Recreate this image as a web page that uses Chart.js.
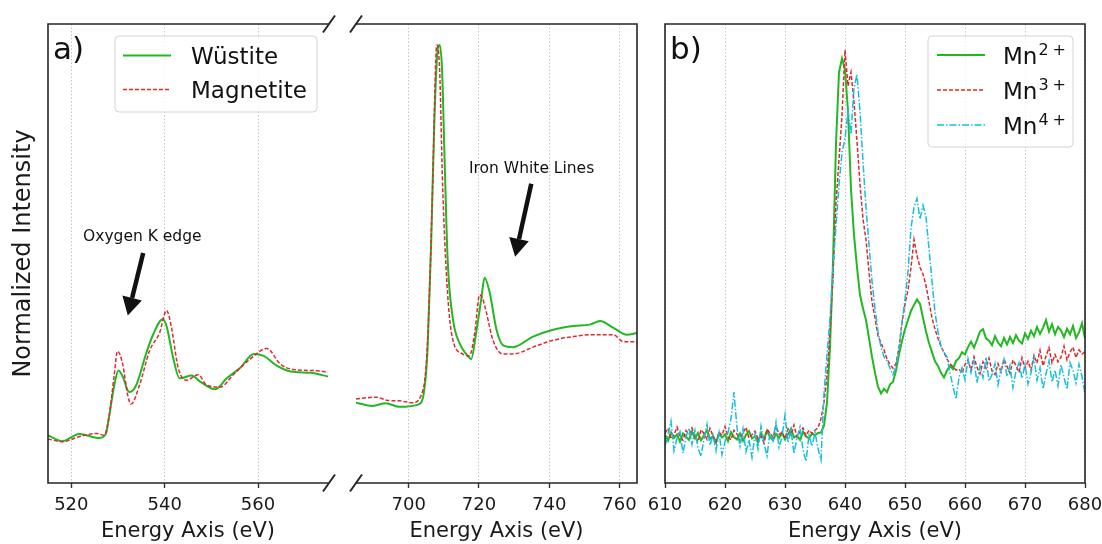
<!DOCTYPE html>
<html>
<head>
<meta charset="utf-8">
<title>O K, Fe L and Mn L edges</title>
<script src="https://cdn.jsdelivr.net/npm/chart.js@4.4.1/dist/chart.umd.min.js"></script>
<style>
  body { margin: 0; background: #fff; }
  #figure { position: relative; width: 1102px; height: 544px; }
  #figure canvas { position: absolute; left: 0; top: 0; }
</style>
</head>
<body>
<div id="figure">
  <canvas id="oxygen-chart" width="1102" height="544"></canvas>
  <canvas id="iron-chart" width="1102" height="544"></canvas>
  <canvas id="manganese-chart" width="1102" height="544"></canvas>
</div>
<script>
// values; intensity is in % of the plot height
const oxygenTicks = [520, 540, 560];
const ironTicks = [700, 720, 740, 760];
const manganeseTicks = [610, 620, 630, 640, 650, 660, 670, 680];

const ionLabels = ['Mn2+', 'Mn3+', 'Mn4+'];

// a) oxygen K edge
const wustiteOxygenEnergy = [515, 518, 521.7, 526, 527.4, 528.1, 529.2, 530.1, 531, 532.4, 533.9, 536, 537.5, 539.6, 540.4, 541.8, 543.2, 545.8, 547.6, 550.8, 553.3, 556.2, 559.1, 561.2, 564.1, 567, 571.3, 575];
const wustiteOxygen = [10.4, 9.1, 10.7, 9.8, 10.7, 14.5, 21.3, 24.5, 23.2, 19.8, 21.3, 28.1, 32.3, 35.7, 34.2, 27.4, 22.8, 23.4, 22.1, 20.4, 22.8, 25.1, 28.1, 27.7, 25.5, 24.3, 24.0, 23.2];
const magnetiteOxygenEnergy = [515, 518, 522, 525.5, 527, 528.1, 529.2, 529.9, 531, 532.1, 532.8, 534.6, 536.8, 538.9, 540.4, 541.4, 542.9, 544.7, 547.2, 549, 551.9, 554.7, 558.3, 561.9, 564.8, 567.7, 572, 575];
const magnetiteOxygen = [9.6, 9.0, 10.2, 10.8, 10.4, 14.5, 23.6, 28.7, 25.9, 19.0, 17.2, 21.3, 28.9, 32.7, 37.6, 34.2, 25.1, 22.4, 23.6, 21.3, 20.9, 23.6, 27.0, 29.3, 25.9, 24.7, 24.5, 24.2];

// a) iron L2,3 white lines
const wustiteIronEnergy = [685, 689.7, 693.5, 697.3, 703, 704.5, 705.4, 706.4, 707.3, 708.3, 708.8, 709.5, 710.2, 711.1, 712.6, 714.5, 716.4, 717.8, 719.2, 720.7, 721.6, 723, 725, 726.9, 729.7, 735.4, 741.1, 746.9, 751.6, 754.5, 758.3, 762.1, 765];
const wustiteIron = [17.5, 16.8, 17.4, 16.6, 17.2, 20.6, 29.6, 52.3, 78.8, 94.7, 95.4, 90.1, 71.2, 48.5, 35.7, 30.4, 28.1, 27.0, 32.7, 40.3, 44.7, 41.7, 33.4, 30.0, 29.6, 31.9, 33.4, 34.2, 34.5, 35.3, 33.8, 32.3, 32.7];
const magnetiteIronEnergy = [685, 690.7, 694, 697.3, 701.1, 703.5, 705, 705.9, 706.9, 707.8, 708.1, 708.8, 709.7, 711.1, 712.6, 715.4, 717.3, 718.8, 720.2, 721, 722.1, 724, 726.9, 729.7, 735.4, 741.1, 746.9, 751.6, 758.3, 761.1, 765];
const magnetiteIron = [18.3, 18.7, 18.0, 17.9, 17.5, 19.0, 25.9, 41.0, 67.4, 93.9, 95.4, 90.1, 63.9, 41.0, 31.1, 28.1, 27.7, 32.7, 41.0, 40.3, 37.2, 31.1, 28.1, 28.1, 29.6, 31.1, 31.9, 32.3, 32.3, 30.8, 30.8];

// b) manganese L2,3, sampled every 0.5 eV from 610 to 680 eV
const mn2 = [
  10.5, 9.2, 11.0, 9.8, 10.6, 9.0, 10.8, 10.1, 9.4, 11.2,
  9.7, 10.9, 9.3, 10.4, 11.5, 9.6, 10.2, 8.9, 10.7, 9.9,
  10.6, 9.1, 11.1, 10.0, 9.5, 10.8, 9.2, 10.5, 11.3, 9.7,
  10.2, 8.8, 10.9, 9.6, 11.4, 10.0, 9.3, 10.7, 9.8, 11.0,
  9.5, 10.6, 11.8, 9.9, 10.3, 9.4, 11.2, 10.1, 9.7, 10.8,
  10.4, 10.9, 11.0, 12.5, 17.5, 29.6, 48.0, 74.0, 89.5, 92.5,
  90.1, 81.0, 64.0, 54.0, 47.0, 41.0, 38.0, 35.5, 31.5, 27.5,
  24.0, 21.0, 19.5, 20.5, 19.8, 21.5, 22.0, 24.5, 28.0, 31.0,
  33.5, 35.5, 37.5, 38.8, 40.0, 39.0, 36.0, 33.0, 30.5, 28.5,
  26.5, 25.5, 24.0, 23.0, 24.5, 25.5, 24.8, 26.6, 27.2, 28.5,
  28.0, 29.6, 30.8, 29.5, 31.2, 33.0, 33.5, 31.5, 31.0, 30.0,
  32.0, 30.6, 29.8, 31.6, 30.2, 31.8, 30.5, 32.2, 31.0, 30.4,
  32.6, 31.4, 33.2, 32.0, 34.0, 32.5, 33.8, 35.5, 33.0, 34.6,
  32.4, 34.0, 33.2, 31.8, 33.6, 32.4, 34.2, 31.6, 32.8, 34.8,
  31.5
];
const mn3 = [
  10.8, 11.9, 9.6, 10.5, 12.2, 10.1, 9.3, 11.4, 10.6, 12.0,
  10.2, 9.0, 11.6, 10.8, 9.5, 11.9, 10.3, 8.8, 11.1, 10.4,
  12.3, 10.0, 9.4, 11.5, 10.7, 9.2, 11.0, 12.1, 9.8, 10.5,
  11.3, 9.6, 10.2, 8.7, 11.7, 10.9, 9.9, 12.4, 10.6, 11.0,
  9.7, 11.8, 10.4, 12.6, 10.0, 11.2, 12.0, 10.3, 11.5, 10.8,
  11.5, 12.0, 14.0, 17.5, 23.5, 33.0, 45.0, 61.0, 70.5, 80.0,
  94.3, 86.5, 89.5, 83.0, 74.5, 65.0, 57.5, 53.0, 46.0, 39.5,
  36.0, 32.0, 30.5, 29.0, 27.0, 25.8, 25.0, 26.0, 29.5, 35.0,
  39.0, 42.0, 47.0, 53.0, 49.5, 47.0, 45.5, 43.0, 39.5, 36.0,
  33.5, 31.5, 29.8, 28.4, 27.0, 26.0, 25.3, 24.6, 24.8, 23.9,
  25.8, 26.8, 24.6, 27.5, 25.2, 23.8, 26.4, 25.0, 27.2, 24.4,
  23.6, 26.0, 24.2, 27.0, 25.4, 23.9, 26.8, 25.6, 24.1, 27.3,
  25.0, 26.5, 24.6, 27.8, 26.1, 28.9, 25.5, 27.6, 29.5, 26.2,
  28.0, 26.4, 27.4, 29.8, 26.8, 28.5, 29.6, 27.3, 29.0, 28.1,
  28.6
];
const mn4 = [
  8.0, 10.5, 13.5, 7.0, 9.8, 11.2, 6.5, 10.0, 12.0, 8.4,
  11.5, 7.6, 5.8, 9.6, 12.8, 8.2, 10.4, 7.0, 11.0, 6.2,
  9.0, 11.0, 14.0, 19.8, 12.0, 8.0, 11.8, 6.8, 9.4, 5.6,
  10.6, 7.4, 12.4, 8.6, 5.9, 11.0, 9.2, 13.2, 7.8, 10.0,
  14.8, 8.8, 11.6, 6.4, 9.8, 12.2, 7.2, 4.7, 10.4, 8.0,
  11.0, 7.5, 5.0, 19.5, 28.0, 36.0, 47.0, 56.0, 65.0, 72.0,
  75.0, 81.0, 76.0, 86.0, 89.0, 81.0, 70.0, 60.0, 52.0, 44.0,
  38.0, 33.0, 29.6, 27.5, 26.6, 25.0, 23.6, 25.5, 29.0, 35.0,
  40.0, 46.0, 55.5, 60.0, 62.0, 57.5, 60.5, 58.0, 51.0, 44.0,
  37.2, 33.0, 29.6, 28.5, 27.4, 24.0, 21.0, 18.3, 23.0, 25.1,
  22.5, 27.0, 24.0, 26.6, 21.8, 25.5, 23.0, 27.4, 22.2, 23.6,
  26.0, 21.4, 24.8, 27.0, 23.2, 25.6, 20.8, 24.4, 26.2, 22.8,
  25.8, 21.6, 24.0, 27.2, 22.4, 25.1, 20.5, 23.8, 26.6, 22.0,
  24.6, 21.2, 25.8, 23.0, 20.4, 26.2, 24.5, 21.8, 25.9, 23.2,
  19.5
];
const manganeseEnergy = mn2.map((v, i) => 610 + i * 0.5);

const FONT = 'DejaVu Sans';
const INK = '#1a1a1a';
const GREEN = '#22b822';
const RED = '#e0282e';
const CYAN = '#14bfe0';

const pts = (xs, ys) => ys.map((y, i) => ({ x: xs[i], y: y }));

function trace(label, xs, ys, color, style, order, smooth) {
    return {
        label: label,
        data: pts(xs, ys),
        borderColor: color,
        backgroundColor: color,
        borderWidth: style === 'solid' ? 2 : 1.5,
        borderDash: style === 'dashed' ? [4, 2] : style === 'dashdot' ? [7, 2, 1.5, 2] : [],
        pointRadius: 0,
        cubicInterpolationMode: smooth ? 'monotone' : 'default',
        tension: 0,
        fill: false,
        order: order
    };
}

function energyAxis(min, max, ticks) {
    return {
        type: 'linear',
        min: min,
        max: max,
        afterBuildTicks: axis => { axis.ticks = ticks.map(v => ({ value: v })); },
        afterFit: axis => { axis.height = 61; axis.paddingLeft = 0; axis.paddingRight = 0; },
        grid: { color: '#c4c4c4', lineWidth: 1, tickLength: 5, tickColor: '#333', tickWidth: 1.4, tickBorderDash: [] },
        border: { display: false, dash: [1.5, 2] },
        ticks: { color: INK, padding: 7, maxRotation: 0, autoSkip: false, font: { family: FONT, size: 18 } },
        title: { display: true, text: 'Energy Axis (eV)', color: INK, padding: 0, font: { family: FONT, size: 21 } }
    };
}

const hiddenIntensity = { display: false, min: 0, max: 100 };

function roundedBox(ctx, x, y, w, h, r) {
    ctx.beginPath();
    ctx.moveTo(x + r, y);
    ctx.lineTo(x + w - r, y);
    ctx.arcTo(x + w, y, x + w, y + r, r);
    ctx.lineTo(x + w, y + h - r);
    ctx.arcTo(x + w, y + h, x + w - r, y + h, r);
    ctx.lineTo(x + r, y + h);
    ctx.arcTo(x, y + h, x, y + h - r, r);
    ctx.lineTo(x, y + r);
    ctx.arcTo(x, y, x + r, y, r);
    ctx.closePath();
}

// frame, broken-axis marks and the panel tag
const framePlugin = {
    id: 'frame',
    afterDraw(chart, args, opts) {
        const { ctx, chartArea: { left, right, top, bottom } } = chart;
        ctx.save();
        ctx.strokeStyle = '#262626';
        ctx.lineWidth = 1.6;
        ctx.lineCap = 'square';
        ctx.beginPath();
        ctx.moveTo(left, top); ctx.lineTo(right, top);
        ctx.moveTo(left, bottom); ctx.lineTo(right, bottom);
        if (!opts.openLeft) { ctx.moveTo(left, top); ctx.lineTo(left, bottom); }
        if (!opts.openRight) { ctx.moveTo(right, top); ctx.lineTo(right, bottom); }
        ctx.stroke();

        const edges = [];
        if (opts.openRight) edges.push(right + 1);
        if (opts.openLeft) edges.push(left);
        ctx.lineWidth = 2;
        ctx.lineCap = 'butt';
        edges.forEach(x => [top, bottom].forEach(y => {
            ctx.beginPath();
            ctx.moveTo(x - 6, y + 8.5);
            ctx.lineTo(x + 6, y - 8.5);
            ctx.stroke();
        }));

        if (opts.tag) {
            ctx.fillStyle = '#111';
            ctx.font = '31px ' + FONT;
            ctx.textAlign = 'left';
            ctx.textBaseline = 'alphabetic';
            ctx.fillText(opts.tag, left + 5, top + 35);
        }
        ctx.restore();
    }
};

// matplotlib-like framed legend, labels like "Mn2+" get a superscript charge
const boxLegendPlugin = {
    id: 'boxLegend',
    afterDraw(chart, args, opts) {
        if (!opts.box) return;
        const ctx = chart.ctx;
        const b = opts.box;
        ctx.save();
        roundedBox(ctx, b.x, b.y, b.w, b.h, 4);
        ctx.fillStyle = 'rgba(255,255,255,0.8)';
        ctx.fill();
        ctx.strokeStyle = '#d4d4d4';
        ctx.lineWidth = 1;
        ctx.stroke();

        chart.data.datasets.forEach((ds, i) => {
            const y = opts.firstRow + i * opts.rowGap;
            ctx.beginPath();
            ctx.setLineDash(ds.borderDash);
            ctx.strokeStyle = ds.borderColor;
            ctx.lineWidth = ds.borderWidth;
            ctx.moveTo(opts.lineX, y);
            ctx.lineTo(opts.lineX + 48, y);
            ctx.stroke();
            ctx.setLineDash([]);

            ctx.fillStyle = '#111';
            ctx.textAlign = 'left';
            ctx.textBaseline = 'alphabetic';
            const base = y + 8.5;
            const m = ds.label.match(/^(.*?)(\d)(\+)$/);
            ctx.font = '23px ' + FONT;
            if (!m) {
                ctx.fillText(ds.label, opts.textX, base);
                return;
            }
            ctx.fillText(m[1], opts.textX, base);
            let x = opts.textX + ctx.measureText(m[1]).width + 1;
            ctx.font = '16px ' + FONT;
            ctx.fillText(m[2], x, base - 9);
            x += ctx.measureText(m[2]).width + 4;
            ctx.fillText(m[3], x, base - 9);
        });
        ctx.restore();
    }
};

// text labels with thick arrows, placed in data coordinates
const notesPlugin = {
    id: 'notes',
    afterDatasetsDraw(chart, args, opts) {
        if (!opts.items) return;
        const { ctx, scales: { x, y } } = chart;
        ctx.save();
        ctx.fillStyle = '#111';
        ctx.strokeStyle = '#111';
        opts.items.forEach(n => {
            ctx.font = '15.5px ' + FONT;
            ctx.textAlign = 'center';
            ctx.textBaseline = 'middle';
            ctx.fillText(n.text, x.getPixelForValue(n.at[0]), y.getPixelForValue(n.at[1]));

            const x1 = x.getPixelForValue(n.from[0]), y1 = y.getPixelForValue(n.from[1]);
            const x2 = x.getPixelForValue(n.to[0]), y2 = y.getPixelForValue(n.to[1]);
            const ang = Math.atan2(y2 - y1, x2 - x1);
            const headLen = 18, half = 10;
            const bx = x2 - headLen * Math.cos(ang), by = y2 - headLen * Math.sin(ang);
            ctx.lineWidth = 4.5;
            ctx.beginPath();
            ctx.moveTo(x1, y1);
            ctx.lineTo(bx, by);
            ctx.stroke();
            ctx.beginPath();
            ctx.moveTo(x2, y2);
            ctx.lineTo(bx + half * Math.sin(ang), by - half * Math.cos(ang));
            ctx.lineTo(bx - half * Math.sin(ang), by + half * Math.cos(ang));
            ctx.closePath();
            ctx.fill();
        });
        ctx.restore();
    }
};

function spectrumChart(id, datasets, xAxis, yAxis, padding, extra) {
    return new Chart(document.getElementById(id).getContext('2d'), {
        type: 'line',
        data: { datasets: datasets },
        options: {
            responsive: false,
            animation: false,
            events: [],
            layout: { padding: padding },
            scales: { x: xAxis, y: yAxis },
            plugins: {
                legend: { display: false },
                tooltip: { enabled: false },
                frame: extra.frame,
                boxLegend: extra.legend || {},
                notes: extra.notes || {}
            }
        },
        plugins: [framePlugin, boxLegendPlugin, notesPlugin]
    });
}

document.addEventListener('DOMContentLoaded', () => {
    // a) left half: O K edge
    spectrumChart('oxygen-chart', [
        trace('Wüstite', wustiteOxygenEnergy, wustiteOxygen, GREEN, 'solid', 2, true),
        trace('Magnetite', magnetiteOxygenEnergy, magnetiteOxygen, RED, 'dashed', 1, true)
    ], energyAxis(515, 575, oxygenTicks), {
        min: 0,
        max: 100,
        afterFit: axis => { axis.width = 48; },
        grid: { display: false },
        border: { display: false },
        ticks: { display: false },
        title: { display: true, text: 'Normalized Intensity', color: INK, padding: { top: 9, bottom: 0 }, font: { family: FONT, size: 24 } }
    }, { left: 0, right: 774, top: 24, bottom: 0 }, {
        frame: { openRight: true, tag: 'a)' },
        legend: { box: { x: 115, y: 36, w: 202, h: 76 }, firstRow: 55.5, rowGap: 34, lineX: 123, textX: 191 },
        notes: { items: [{ text: 'Oxygen K edge', at: [535.2, 53.5], from: [535.4, 50.1], to: [532.1, 36.5] }] }
    });

    // a) right half: Fe L2,3 white lines
    spectrumChart('iron-chart', [
        trace('Wüstite', wustiteIronEnergy, wustiteIron, GREEN, 'solid', 2, true),
        trace('Magnetite', magnetiteIronEnergy, magnetiteIron, RED, 'dashed', 1, true)
    ], energyAxis(685, 765, ironTicks), hiddenIntensity,
    { left: 356, right: 465, top: 24, bottom: 0 }, {
        frame: { openLeft: true },
        notes: { items: [{ text: 'Iron White Lines', at: [735, 68.4], from: [734.9, 65.2], to: [730.3, 49.3] }] }
    });

    // b) Mn L2,3 for three oxidation states
    spectrumChart('manganese-chart', [
        trace(ionLabels[0], manganeseEnergy, mn2, GREEN, 'solid', 3, false),
        trace(ionLabels[1], manganeseEnergy, mn3, RED, 'dashed', 2, false),
        trace(ionLabels[2], manganeseEnergy, mn4, CYAN, 'dashdot', 1, false)
    ], energyAxis(610, 680, manganeseTicks), hiddenIntensity,
    { left: 665, right: 17, top: 24, bottom: 0 }, {
        frame: { tag: 'b)' },
        legend: { box: { x: 928, y: 36, w: 145, h: 111 }, firstRow: 55, rowGap: 35, lineX: 937, textX: 1003 }
    });
});
</script>
</body>
</html>
